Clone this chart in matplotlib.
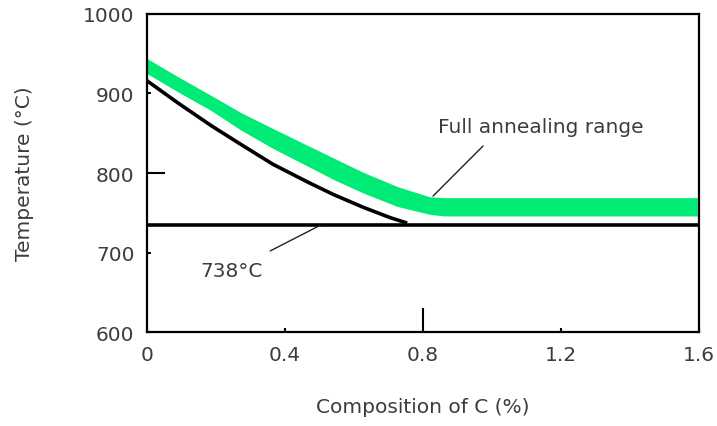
import numpy as np
import matplotlib.pyplot as plt

# data
comp_black = [0.0, 0.09, 0.188, 0.272, 0.365, 0.464, 0.54, 0.626, 0.704, 0.754]
temp_black = [916, 888, 859, 836, 811, 789, 773, 757, 744, 737]

comp_band = [0.0, 0.09, 0.188, 0.272, 0.365, 0.464, 0.54, 0.626, 0.725,
             0.82, 0.86, 1.595]
band_low = [925, 902, 878, 854, 831, 809, 792, 775, 758, 748, 746, 746]
band_high = [944, 921, 897, 876, 856, 835, 819, 801, 783, 770, 769, 769]

a1_temp = 735  # drawn A1 line
x_ticks = [0, 0.4, 0.8, 1.2, 1.6]
x_labels = ['0', '0.4', '0.8', '1.2', '1.6']
y_ticks = [600, 700, 800, 900, 1000]

plt.rcParams['font.family'] = ['DejaVu Sans']
txt = '#3c3c3c'
fs = 14.5

fig = plt.figure(figsize=(7.17, 4.27), dpi=100)
ax = fig.add_axes([0.205, 0.220, 0.770, 0.745])

ax.fill_between(comp_band, band_low, band_high, color='#00ea76', lw=0)
ax.plot(comp_black, temp_black, color='black', lw=2.6, solid_capstyle='butt')
ax.axhline(a1_temp, color='black', lw=2.6)

ax.set_xlim(0, 1.6)
ax.set_ylim(600, 1000)
ax.set_xticks(x_ticks)
ax.set_xticklabels(x_labels)
ax.set_yticks(y_ticks)
ax.tick_params(direction='in', length=3, width=1.5, labelsize=fs,
               labelcolor=txt, pad=9)
ax.xaxis.get_major_ticks()[2].tick1line.set_markersize(17)
ax.yaxis.get_major_ticks()[2].tick1line.set_markersize(13)
for s in ax.spines.values():
    s.set_linewidth(1.6)

ax.set_xlabel('Composition of C (%)', fontsize=fs, color=txt)
ax.set_ylabel('Temperature (°C)', fontsize=fs, color=txt)
ax.xaxis.set_label_coords(0.5, -0.233)
ax.xaxis.label.set_verticalalignment('center')
ax.yaxis.set_label_coords(-0.222, 0.5)
ax.yaxis.label.set_verticalalignment('center')

# leader lines and labels
ax.annotate('', xy=(0.501, 734), xytext=(0.357, 702),
            arrowprops=dict(arrowstyle='-', color='#222222', lw=1.0,
                            shrinkA=0, shrinkB=0))
ax.text(0.246, 677, '738°C', fontsize=fs, color=txt, ha='center', va='center')
ax.annotate('', xy=(0.829, 771), xytext=(0.974, 834),
            arrowprops=dict(arrowstyle='-', color='#222222', lw=1.0,
                            shrinkA=0, shrinkB=0))
ax.text(1.142, 859, 'Full annealing range', fontsize=fs, color=txt,
        ha='center', va='center')

fig.savefig('out.png', dpi=100)
